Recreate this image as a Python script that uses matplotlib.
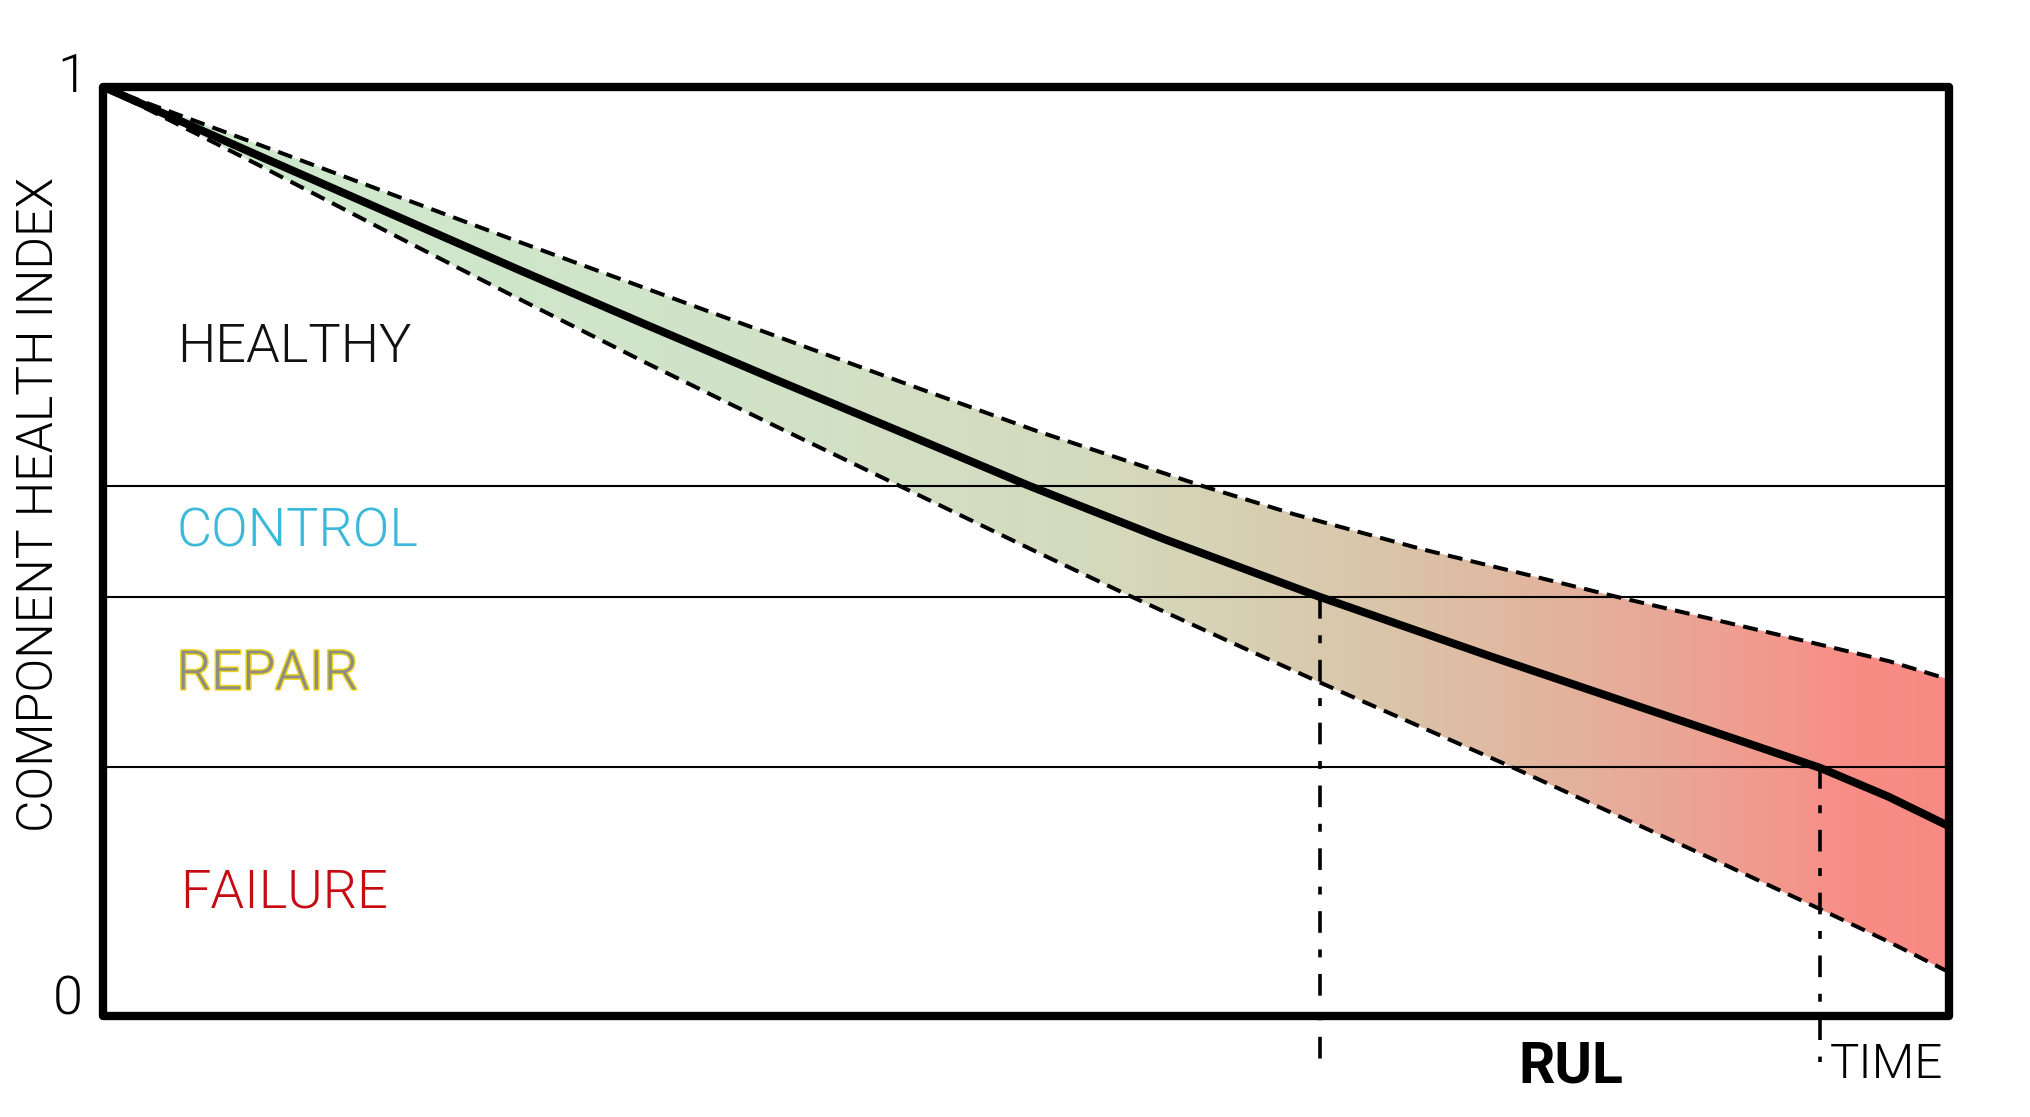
import numpy as np
import matplotlib
matplotlib.use("Agg")
import matplotlib.pyplot as plt
import matplotlib.patheffects as pe
from matplotlib.colors import LinearSegmentedColormap
from matplotlib.patches import Polygon, Rectangle

# ---- data (normalised time 0..1, health index 0..1) ----
mean_x = [0.0, 0.084, 0.154, 0.224, 0.294, 0.364, 0.434, 0.501, 0.575, 0.659,
          0.750, 0.820, 0.890, 0.930, 0.967, 1.0]
mean_y = [1.0, 0.926, 0.865, 0.804, 0.744, 0.685, 0.627, 0.571, 0.513, 0.451,
          0.388, 0.341, 0.294, 0.267, 0.236, 0.204]

upper_x = [0.0, 0.084, 0.154, 0.224, 0.294, 0.364, 0.434, 0.505, 0.596, 0.645,
           0.715, 0.771, 0.820, 0.876, 0.925, 0.967, 1.0]
upper_y = [1.0, 0.938, 0.886, 0.834, 0.783, 0.732, 0.681, 0.630, 0.570, 0.540,
           0.502, 0.475, 0.451, 0.425, 0.402, 0.382, 0.362]

lower_x = [0.0, 0.084, 0.154, 0.224, 0.294, 0.364, 0.434, 0.505, 0.554, 0.610,
           0.659, 0.715, 0.764, 0.820, 0.876, 0.930, 0.967, 1.0]
lower_y = [1.0, 0.916, 0.844, 0.773, 0.703, 0.635, 0.568, 0.500, 0.454, 0.403,
           0.359, 0.310, 0.267, 0.216, 0.165, 0.115, 0.080, 0.047]

thresholds = [0.570, 0.451, 0.268]
zone_names = ["HEALTHY", "CONTROL", "REPAIR", "FAILURE"]
zone_label_x = [0.040, 0.040, 0.040, 0.042]
zone_label_y = [0.720, 0.5215, 0.3676, 0.133]
zone_colors = ["#111111", "#3bb9d9", "#8c8c86", "#c60c12"]
repair_outline = "#ecd21c"

rul_start_x = 0.659
failure_x = 0.930

grad_pos = [0.0, 0.35, 0.55, 0.70, 0.85, 0.95, 1.0]
grad_cols = ["#ceeace", "#d1e3c8", "#d5d9bc", "#dac4a8", "#e9a796", "#f88d86", "#f98a84"]

fig = plt.figure(figsize=(20.30, 11.17), dpi=100)
ax = fig.add_axes([0.0507, 0.0904, 0.9096, 0.8320])
ax.set_xlim(0, 1)
ax.set_ylim(0, 1)

# gradient band
cmap = LinearSegmentedColormap.from_list("band", list(zip(grad_pos, grad_cols)))
grad = np.linspace(0, 1, 512).reshape(1, -1)
im = ax.imshow(grad, extent=[0, 1, 0, 1], aspect="auto", cmap=cmap, origin="lower", zorder=1)
poly_pts = list(zip(upper_x, upper_y)) + list(zip(lower_x[::-1], lower_y[::-1]))
poly = Polygon(poly_pts, closed=True, facecolor="none", edgecolor="none", transform=ax.transData)
ax.add_patch(poly)
im.set_clip_path(poly)

# threshold lines
for t in thresholds:
    ax.axhline(t, color="black", lw=1.5, zorder=2)

# bounds and mean
ax.plot(upper_x, upper_y, color="black", lw=2.9, ls=(0, (3.7, 2.1)), zorder=3)
ax.plot(lower_x, lower_y, color="black", lw=2.9, ls=(0, (3.7, 2.1)), zorder=3)
ax.plot(mean_x, mean_y, color="black", lw=5.8, zorder=4, solid_joinstyle="round")

# vertical markers
dd = (0, (6.0, 4.6, 2.2, 4.6))
ax.plot([rul_start_x, rul_start_x], [thresholds[1], -0.05], color="black", lw=2.6,
        ls=dd, clip_on=False, zorder=3)
ax.plot([failure_x, failure_x], [thresholds[2], -0.05], color="black", lw=2.6,
        ls=dd, clip_on=False, zorder=3)

font = ["Roboto", "DejaVu Sans"]
for name, xx, yy, c in zip(zone_names, zone_label_x, zone_label_y, zone_colors):
    t = ax.text(xx, yy, name, color=c, fontsize=39, family=font, fontweight=300,
                va="center", ha="left")
    if name == "REPAIR":
        t.set_path_effects([pe.withStroke(linewidth=2.2, foreground=repair_outline)])

ax.text(-0.0168, 1.010, "1", fontsize=39, family=font, fontweight=300, ha="center", va="center")
ax.text(-0.019, 0.018, "0", fontsize=39, family=font, fontweight=300, ha="center", va="center")
fig.text(0.0192, 0.548, "COMPONENT HEALTH INDEX", rotation=90, fontsize=36, family=font,
         fontweight=300, ha="center", va="center")
ax.text(0.795, -0.055, "RUL", fontsize=41, family=font, fontweight="bold", ha="center", va="center")
ax.text(0.9967, -0.0527, "TIME", fontsize=35.5, family=font, fontweight=300, ha="right", va="center")

ax.set_xticks([])
ax.set_yticks([])
for s in ax.spines.values():
    s.set_visible(False)
ax.add_patch(Rectangle((0, 0), 1, 1, transform=ax.transAxes, fill=False, lw=6,
                       edgecolor="black", joinstyle="round", clip_on=False, zorder=6))

fig.savefig("out.png", dpi=100, facecolor="white")
